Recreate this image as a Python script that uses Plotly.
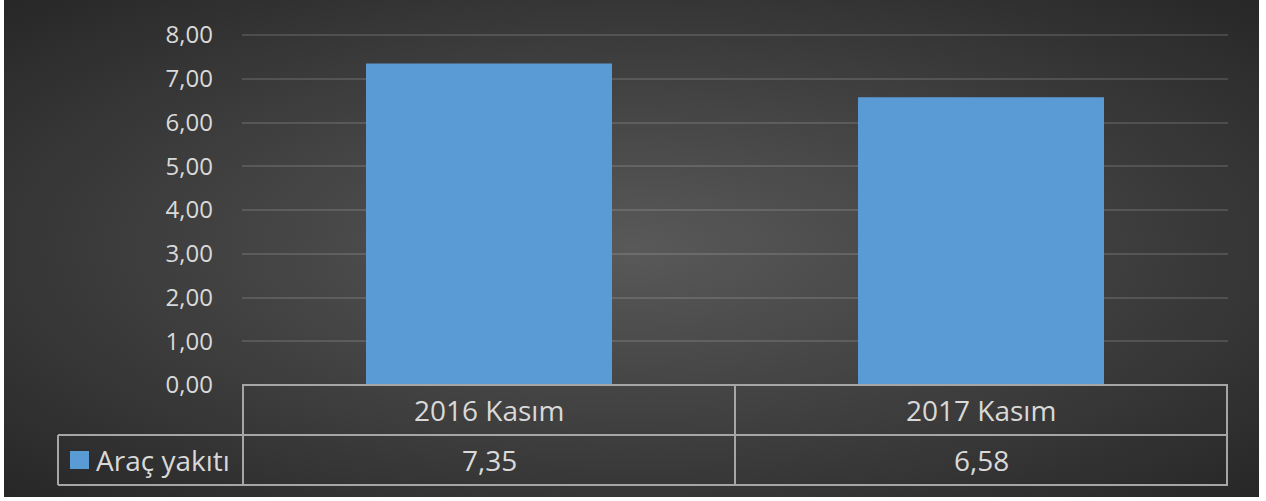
import base64
import plotly.graph_objects as go

categories = ["2016 Kasım", "2017 Kasım"]
values = [7.35, 6.58]
series_name = "Araç yakıtı"
y_ticks = [0, 1, 2, 3, 4, 5, 6, 7, 8]

BAR_COLOR = "#5B9BD5"
TEXT_COLOR = "#D9D9D9"
BORDER = "#A6A6A6"
FONT = "Open Sans"

W, H = 1266, 501
ML, MR, MT, MB = 242, 38, 33, 116
PW, PH = W - ML - MR, H - MT - MB
Y_TOP = 8 + 2 / 43.75  # small headroom so the top gridline is drawn


def fmt(v):
    return f"{v:.2f}".replace(".", ",")


svg = (
    '<svg xmlns="http://www.w3.org/2000/svg" width="1255" height="497" '
    'viewBox="0 0 1255 497" preserveAspectRatio="none">'
    '<defs><radialGradient id="g" cx="50%" cy="50%" r="72%">'
    '<stop offset="0%" stop-color="#595959"/>'
    '<stop offset="100%" stop-color="#262626"/>'
    '</radialGradient></defs>'
    '<rect width="1255" height="497" fill="url(#g)"/></svg>'
)
bg_src = "data:image/svg+xml;base64," + base64.b64encode(svg.encode()).decode()

fig = go.Figure()
fig.add_trace(go.Bar(
    x=categories, y=values, name=series_name,
    marker=dict(color=BAR_COLOR, line=dict(width=0)),
    hoverinfo="skip",
))

px2x = lambda p: (p - ML) / PW
px2y = lambda p: (H - MB - p) / PH

row1 = px2y(435)
row2 = px2y(485)
legend_left = px2x(58)

shapes = []
line = dict(color=BORDER, width=2)
shapes.append(dict(type="line", xref="paper", yref="paper", x0=0, x1=1, y0=0, y1=0, line=line))
shapes.append(dict(type="line", xref="paper", yref="paper", x0=legend_left, x1=1, y0=row1, y1=row1, line=line))
shapes.append(dict(type="line", xref="paper", yref="paper", x0=legend_left, x1=1, y0=row2, y1=row2, line=line))
n = len(categories)
for i in range(n + 1):
    xb = i - 0.5
    shapes.append(dict(type="line", xref="x", yref="paper", x0=xb, x1=xb, y0=0, y1=row2, line=line))
shapes.append(dict(type="line", xref="paper", yref="paper", x0=legend_left, x1=legend_left,
                   y0=row1, y1=row2, line=line))
shapes.append(dict(type="rect", xref="paper", yref="paper",
                   x0=px2x(70), x1=px2x(89), y0=px2y(469), y1=px2y(451),
                   fillcolor=BAR_COLOR, line=dict(width=0)))

tfont = dict(size=28, color=TEXT_COLOR, family=FONT)
annotations = []
for c, v in zip(categories, values):
    annotations.append(dict(x=c, xref="x", y=(0 + row1) / 2, yref="paper", text=c,
                            xanchor="center", yanchor="middle", showarrow=False, font=tfont))
    annotations.append(dict(x=c, xref="x", y=(row1 + row2) / 2, yref="paper", text=fmt(v),
                            xanchor="center", yanchor="middle", showarrow=False, font=tfont))
annotations.append(dict(x=px2x(94), xref="paper", y=(row1 + row2) / 2, yref="paper",
                        text=series_name, xanchor="left", yanchor="middle", showarrow=False,
                        font=dict(size=28, color=TEXT_COLOR, family=FONT)))

fig.update_layout(
    width=W, height=H,
    margin=dict(l=ML, r=MR, t=MT, b=MB, pad=0),
    paper_bgcolor="white",
    plot_bgcolor="rgba(0,0,0,0)",
    showlegend=False,
    bargap=0.5,
    font=dict(family=FONT, color=TEXT_COLOR),
    images=[dict(source=bg_src, xref="paper", yref="paper",
                 x=px2x(4), y=px2y(0), sizex=1255 / PW, sizey=497 / PH,
                 xanchor="left", yanchor="top", sizing="stretch", layer="below")],
    shapes=shapes,
    annotations=annotations,
    xaxis=dict(showticklabels=False, showgrid=False, zeroline=False, showline=False,
               fixedrange=True),
    yaxis=dict(range=[0, Y_TOP], tickvals=y_ticks, ticktext=[fmt(t) for t in y_ticks],
               showgrid=True, gridcolor="rgba(255,255,255,0.13)", gridwidth=1.5,
               zeroline=False, showline=False, ticklabelstandoff=28,
               tickfont=dict(size=24, color=TEXT_COLOR, family=FONT), fixedrange=True),
)

fig.write_html("out.html", config={"displayModeBar": False},
               post_script="document.body.style.margin='0';document.body.style.overflow='hidden';")
